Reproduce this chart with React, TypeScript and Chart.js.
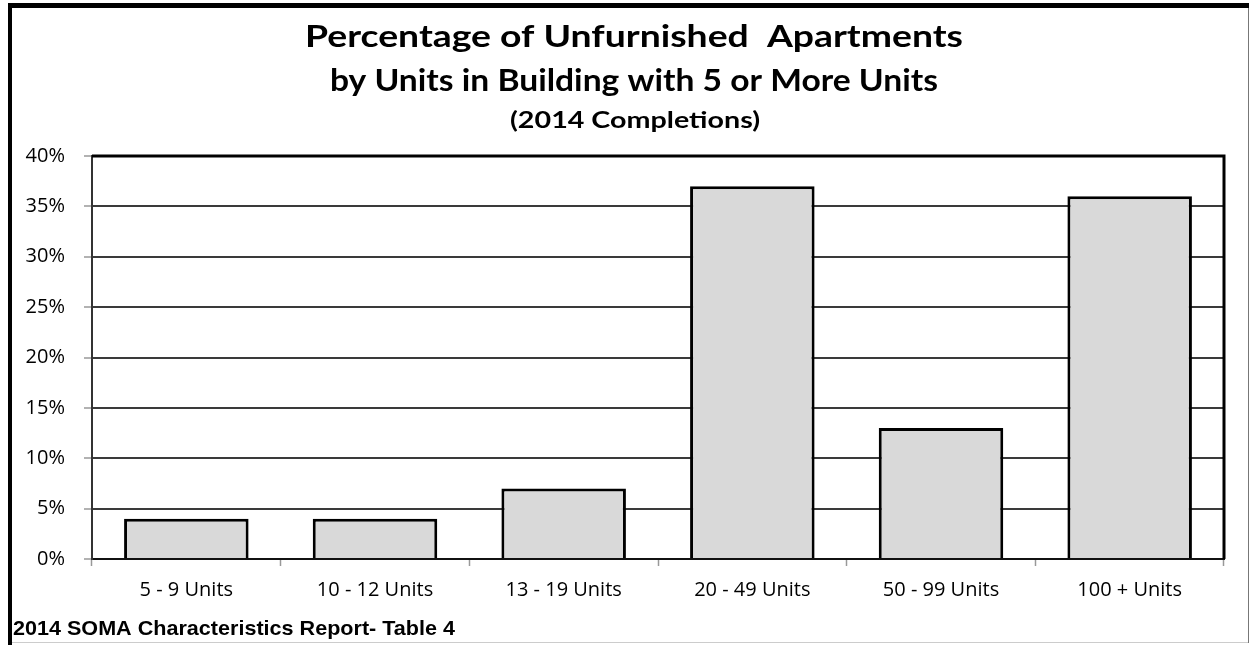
import React, { useEffect, useRef } from "react";
import { Chart, registerables } from "chart.js";

Chart.register(...registerables);

const categories = ["5 - 9 Units", "10 - 12 Units", "13 - 19 Units", "20 - 49 Units", "50 - 99 Units", "100 + Units"];
const unfurnishedPct = [4, 4, 7, 37, 13, 36];
const yTickValues = [0, 5, 10, 15, 20, 25, 30, 35, 40];
const titleLines = [
  "Percentage of Unfurnished  Apartments",
  "by Units in Building with 5 or More Units",
  "(2014 Completions)",
];
const footerText = "2014 SOMA Characteristics Report- Table 4";

function drawFitted(ctx: CanvasRenderingContext2D, text: string, font: string, x: number, y: number, width: number, align: "center" | "left") {
  ctx.save();
  ctx.font = font;
  ctx.textAlign = "left";
  ctx.textBaseline = "alphabetic";
  const w = ctx.measureText(text).width;
  const sx = width / w;
  const left = align === "center" ? x - width / 2 : x;
  ctx.translate(left, y);
  ctx.scale(sx, 1);
  ctx.fillText(text, 0, 0);
  ctx.restore();
}

const titlePlugin = {
  id: "customTitles",
  afterDraw(chart: any) {
    const ctx = chart.ctx as CanvasRenderingContext2D;
    ctx.save();
    ctx.fillStyle = "#000";
    drawFitted(ctx, titleLines[0], "bold 31px Lato", 634, 47, 658, "center");
    drawFitted(ctx, titleLines[1], "bold 30px Lato", 634, 91, 608, "center");
    drawFitted(ctx, titleLines[2], "bold 23px Lato", 635, 128, 250, "center");
    drawFitted(ctx, footerText, "bold 21px 'Liberation Sans'", 13, 635, 442, "left");
    ctx.restore();
  },
};

const framePlugin = {
  id: "plotFrame",
  afterDatasetsDraw(chart: any) {
    const { ctx, chartArea } = chart;
    ctx.save();
    ctx.strokeStyle = "#000";
    ctx.lineWidth = 3;
    ctx.beginPath();
    ctx.moveTo(chartArea.left, chartArea.top);
    ctx.lineTo(chartArea.right, chartArea.top);
    ctx.lineTo(chartArea.right, chartArea.bottom);
    ctx.stroke();
    ctx.restore();
  },
};

export default function App() {
  const ref = useRef<HTMLCanvasElement | null>(null);
  useEffect(() => {
    if (!ref.current) return;
    const chart = new Chart(ref.current, {
      type: "bar",
      data: {
        labels: categories,
        datasets: [
          {
            data: unfurnishedPct,
            backgroundColor: "#d9d9d9",
            borderColor: "#000",
            borderWidth: 3,
            barPercentage: 0.66,
            categoryPercentage: 1.0,
          },
        ],
      },
      options: {
        animation: false,
        responsive: false,
        devicePixelRatio: 1,
        layout: { padding: { left: 12, right: 26, top: 156, bottom: 36 } },
        plugins: { legend: { display: false }, tooltip: { enabled: false }, title: { display: false } },
        scales: {
          x: {
            offset: true,
            grid: { drawOnChartArea: false, drawTicks: true, tickLength: 7, tickColor: "#999", tickWidth: 1.5 },
            border: { color: "#111", width: 2 },
            ticks: { color: "#000", font: { family: "Open Sans", size: 20 }, padding: 12 },
            afterFit: (s: any) => { s.height = 50; },
          },
          y: {
            min: 0,
            max: 40,
            afterBuildTicks: (s: any) => { s.ticks = yTickValues.map((v) => ({ value: v })); },
            ticks: {
              color: "#000",
              font: { family: "Open Sans", size: 20 },
              padding: 19,
              callback: (v: any) => v + "%",
            },
            grid: { color: "#3a3a3a", lineWidth: 2, tickLength: 8, tickColor: "#999", tickWidth: 1.5 },
            border: { color: "#333", width: 2 },
            afterFit: (s: any) => { s.width = 80; },
          },
        },
      },
      plugins: [framePlugin, titlePlugin],
    });
    return () => chart.destroy();
  }, []);

  return (
    <div style={{ position: "absolute", left: 0, top: 0, width: 1250, height: 645, background: "#fff", overflow: "hidden" }}>
      <canvas ref={ref} width={1250} height={645} style={{ position: "absolute", left: 0, top: 0 }} />
      <div style={{ position: "absolute", left: 8, top: 3, width: 1241, height: 5, background: "#000" }} />
      <div style={{ position: "absolute", left: 8, top: 3, width: 4, height: 642, background: "#000" }} />
      <div style={{ position: "absolute", left: 1248, top: 8, width: 1, height: 635, background: "#777" }} />
      <div style={{ position: "absolute", left: 12, top: 642, width: 1236, height: 1, background: "#ccc" }} />
    </div>
  );
}
